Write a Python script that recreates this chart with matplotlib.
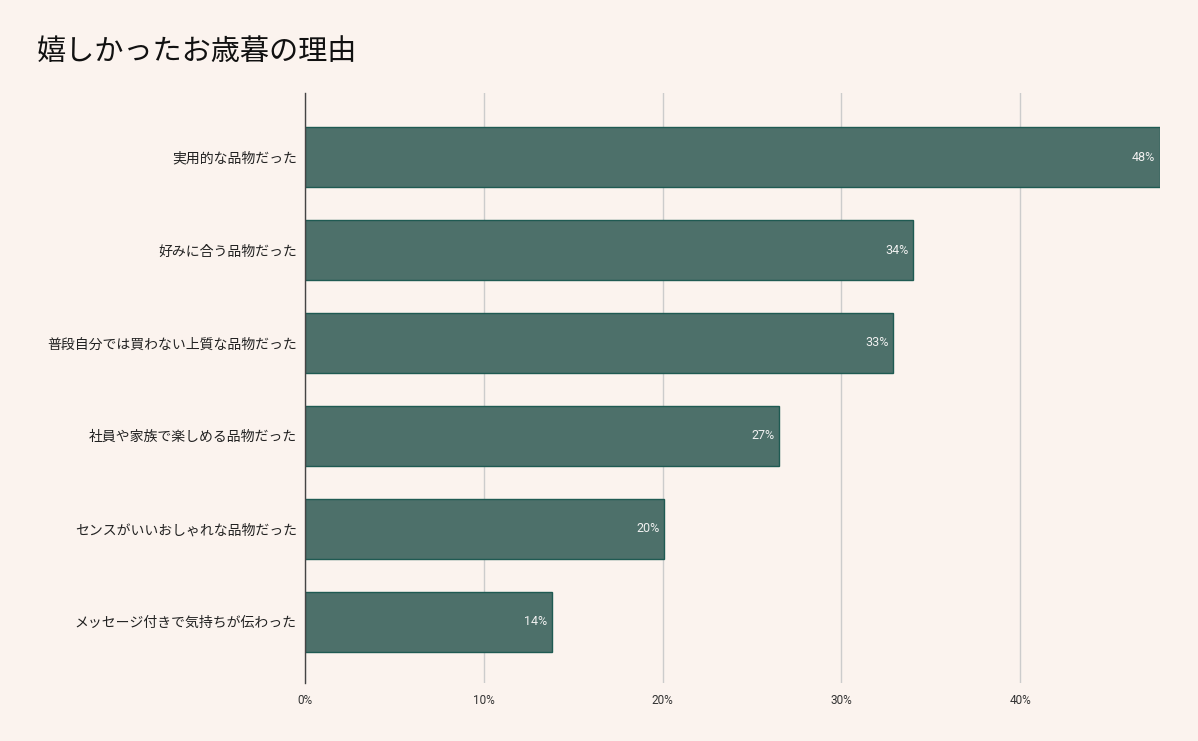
import matplotlib.pyplot as plt

categories = [
    '実用的な品物だった',
    '好みに合う品物だった',
    '普段自分では買わない上質な品物だった',
    '社員や家族で楽しめる品物だった',
    'センスがいいおしゃれな品物だった',
    'メッセージ付きで気持ちが伝わった',
]
values = [47.8, 34.0, 32.9, 26.5, 20.1, 13.8]
value_labels = ['48%', '34%', '33%', '27%', '20%', '14%']
xticks = [0, 10, 20, 30, 40]
xtick_labels = ['0%', '10%', '20%', '30%', '40%']

bg = '#fbf3ee'
bar_color = '#4d706a'
edge_color = '#1f5a52'

plt.rcParams['font.family'] = ['Noto Sans CJK JP', 'DejaVu Sans']

fig = plt.figure(figsize=(11.98, 7.41), dpi=100, facecolor=bg)
ax = fig.add_axes([0.2546, 0.0783, 0.968 - 0.2546, 0.8745 - 0.0783], facecolor=bg)

y = list(range(len(categories)))
ax.barh(y, values, height=0.645, color=bar_color, edgecolor=edge_color, linewidth=1, zorder=3)

for yi, v, lab in zip(y, values, value_labels):
    ax.text(v - 0.25, yi, lab, ha='right', va='center', color='#f0f0f0',
            fontsize=9, family=['Roboto', 'DejaVu Sans'], zorder=4)

ax.set_xlim(0, max(values))
ax.set_ylim(5.66, -0.69)
ax.set_yticks(y)
ax.set_yticklabels(categories, fontsize=10, color='#222222')
ax.set_xticks(xticks)
ax.set_xticklabels(xtick_labels, fontsize=8.5, color='#333333', family=['Roboto', 'DejaVu Sans'])
ax.tick_params(axis='both', length=0)
ax.tick_params(axis='x', pad=8)
ax.tick_params(axis='y', pad=6)

ax.grid(axis='x', color='#cccccc', linewidth=1, zorder=0)
for s in ['top', 'right', 'bottom']:
    ax.spines[s].set_visible(False)
ax.spines['left'].set_color('#444444')
ax.spines['left'].set_linewidth(1)
ax.spines['left'].set_zorder(5)

fig.text(0.031, 0.93, '嬉しかったお歳暮の理由', fontsize=21, color='#111111', va='center', ha='left')

fig.savefig('out.png', dpi=100, facecolor=bg)
